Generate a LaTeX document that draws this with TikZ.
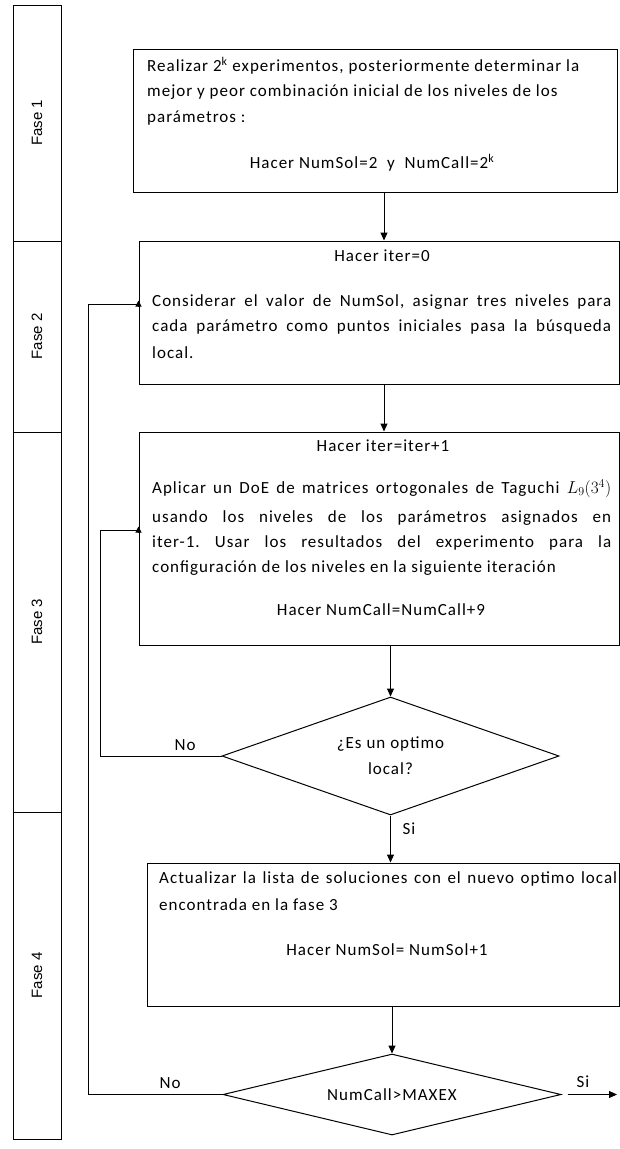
\documentclass[tikz,border=0pt]{standalone}
\usepackage{fontspec}
\setmainfont{Carlito}[LetterSpace=6]
\newfontfamily\fasefont{Liberation Sans}
\usetikzlibrary{shapes.geometric,arrows.meta}
\newcommand\jline[2]{\makebox[#1][s]{#2}}
\frenchspacing
\begin{document}
\begin{tikzpicture}[x=1pt,y=-1pt,
  line/.style={draw=black,line width=1pt},
  arr/.style={line,-{Triangle[length=8pt,width=7pt]}},
  uptip/.style={line,-{Triangle[length=6pt,width=6pt]}},
  box/.style={draw=black,line width=1pt,inner sep=0pt,rectangle},
  dia/.style={draw=black,line width=1pt,inner sep=0pt,diamond,shape aspect=3,align=center,
    font=\fontsize{17pt}{26pt}\selectfont},
  fase/.style={draw=black,line width=1pt,inner sep=0pt,rotate=90,minimum height=48pt,
    font=\fasefont\fontsize{15pt}{18pt}\selectfont},
  txt/.style={inner sep=0pt,font=\fontsize{17pt}{25pt}\selectfont},
  lbl/.style={inner sep=0pt,font=\fontsize{17pt}{20pt}\selectfont}]
\path[fill=white,use as bounding box] (0,0) rectangle (620,1149);

% phase column
\node[fase,minimum width=236pt] (f1) at (37,123) {Fase 1};
\node[fase,minimum width=191pt] (f2) at (37,336.5) {Fase 2};
\node[fase,minimum width=380pt] (f3) at (37,622) {Fase 3};
\node[fase,minimum width=327pt] (f4) at (37,975.5) {Fase 4};

% boxes
\node[box,minimum width=484pt,minimum height=143pt] (b1) at (375,120.5) {};
\node[box,minimum width=480.5pt,minimum height=143pt] (b2) at (379.25,312.5) {};
\node[box,minimum width=480.5pt,minimum height=213pt] (b3) at (379.25,538.5) {};
\node[box,minimum width=472.5pt,minimum height=143pt] (b4) at (383.25,934.5) {};

% decisions
\node[dia,minimum width=337pt,minimum height=118pt] (d1) at (390.5,756) {¿Es un optimo\\local?};
\node[dia,minimum width=338pt,minimum height=81pt] (d2) at (392,1094.5) {NumCall>MAXEX};

% box 1 text
\node[txt,anchor=mid west] (t1a) at (147,69) {Realizar 2\textsuperscript{k} experimentos, posteriormente determinar la};
\node[txt,anchor=mid west] (t1b) at (147,94) {mejor y peor combinación inicial de los niveles de los};
\node[txt,anchor=mid west] (t1c) at (147,120) {parámetros :};
\node[txt,anchor=mid] (t1d) at (372,166) {Hacer NumSol=2 \ y \ NumCall=2\textsuperscript{k}};

% box 2 text
\node[txt,anchor=mid] (t2a) at (382,259) {Hacer iter=0};
\node[txt,anchor=mid west] (t2b) at (152,304) {\jline{459pt}{Considerar el valor de NumSol, asignar tres niveles para}};
\node[txt,anchor=mid west] (t2c) at (152,329) {\jline{459pt}{cada parámetro como puntos iniciales pasa la búsqueda}};
\node[txt,anchor=mid west] (t2d) at (152,356) {local.};

% box 3 text
\node[txt,anchor=mid] (t3a) at (383,449) {Hacer iter=iter+1};
\node[txt,anchor=mid west] (t3b) at (152,491) {\jline{459pt}{Aplicar un DoE de matrices ortogonales de Taguchi $L_9(3^4)$}};
\node[txt,anchor=mid west] (t3c) at (152,520) {\jline{459pt}{usando los niveles de los parámetros asignados en}};
\node[txt,anchor=mid west] (t3d) at (152,545) {\jline{459pt}{iter-1. Usar los resultados del experimento para la}};
\node[txt,anchor=mid west] (t3e) at (152,570) {configuración de los niveles en la siguiente iteración};
\node[txt,anchor=mid] (t3f) at (381,613) {Hacer NumCall=NumCall+9};

% box 4 text
\node[txt,anchor=mid west] (t4a) at (159,881) {\jline{458pt}{Actualizar la lista de soluciones con el nuevo optimo local}};
\node[txt,anchor=mid west] (t4b) at (159,908) {encontrada en la fase 3};
\node[txt,anchor=mid] (t4c) at (387,953) {Hacer NumSol= NumSol+1};

% connectors
\coordinate (x1) at (384,0);
\draw[arr] (b1.south -| x1) -- (b2.north -| x1);
\draw[arr] (b2.south -| x1) -- (b3.north -| x1);
\draw[arr] (b3.south -| d1.north) -- (d1.north);
\draw[arr] (d1.south) -- (b4.north -| d1.south);
\draw[arr] (b4.south -| d2.north) -- (d2.north);
\coordinate (out) at (617,1094.5);
\draw[arr] ([xshift=6pt]d2.east) -- (out);

\coordinate (in3) at (b3.west |- 0,530);
\draw[line] (d1.west) -- ++(-121,0) |- (in3);
\draw[uptip] ([yshift=-2.5pt]in3) -- ([yshift=3.5pt]in3);

\coordinate (in2) at (b2.west |- 0,304);
\draw[line] (d2.west) -- ++(-134,0) |- (in2);
\draw[uptip] ([yshift=-2.5pt]in2) -- ([yshift=3.5pt]in2);

% labels
\node[lbl] (no1) at (185,745) {No};
\node[lbl] (si1) at (409,829) {Si};
\node[lbl] (no2) at (170,1083) {No};
\node[lbl] (si2) at (583,1082) {Si};
\end{tikzpicture}
\end{document}
